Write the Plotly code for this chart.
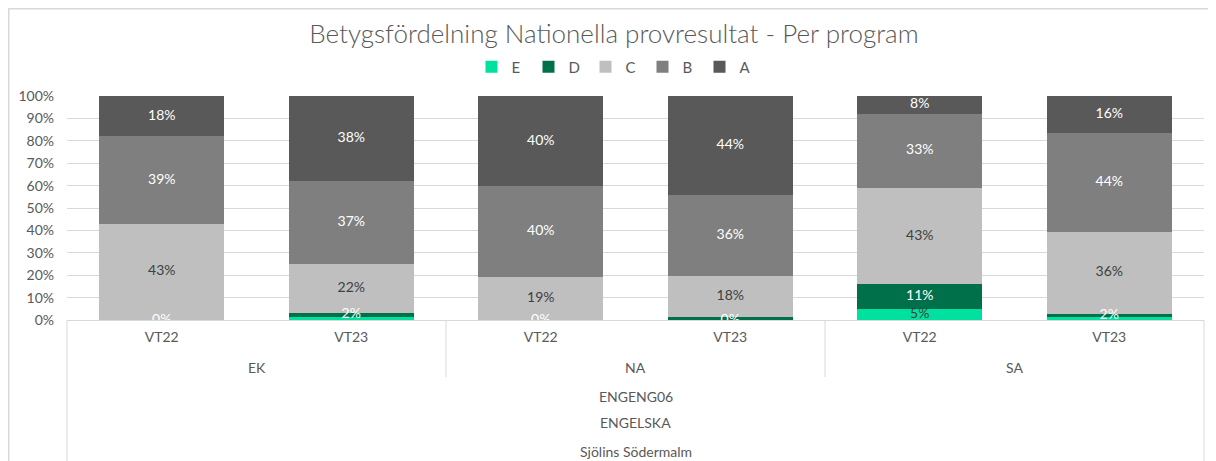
import plotly.graph_objects as go

programs = ["EK", "EK", "NA", "NA", "SA", "SA"]
terms = ["VT22", "VT23", "VT22", "VT23", "VT22", "VT23"]
course = "ENGENG06"
subject = "ENGELSKA"
school = "Sjölins Södermalm"

E = [0, 1.5, 0, 0, 5, 1.4]
D = [0, 1.5, 0, 1.3, 11, 1.4]
C = [43, 22, 19.4, 18.5, 43, 36.4]
B = [39, 37, 40.4, 36, 33, 44.4]
A = [18, 38, 40.2, 44.2, 8, 16.4]

E_lbl = ["0%", "", "0%", "0%", "5%", ""]
D_lbl = ["", "2%", "", "", "11%", "2%"]
C_lbl = ["43%", "22%", "19%", "18%", "43%", "36%"]
B_lbl = ["39%", "37%", "40%", "36%", "33%", "44%"]
A_lbl = ["18%", "38%", "40%", "44%", "8%", "16%"]

names = ["E", "D", "C", "B", "A"]
series = [E, D, C, B, A]
labels = [E_lbl, D_lbl, C_lbl, B_lbl, A_lbl]
colors = ["#00E09E", "#00704A", "#BFBFBF", "#7F7F7F", "#595959"]
lbl_colors = [
    ["#FFFFFF", "#404040", "#FFFFFF", "#FFFFFF", "#404040", "#404040"],
    ["#FFFFFF"] * 6,
    ["#404040"] * 6,
    ["#FFFFFF"] * 6,
    ["#FFFFFF"] * 6,
]

keys = [f"{p} {t}" for p, t in zip(programs, terms)]
FONT = "Lato"
GRAY = "#595959"
LINE = "#D9D9D9"
OFF = 8  # page body margin

FIG_W, FIG_H = 1216, 461
# plot area in screen pixels: x 67..1204, y 96..320
L, R, T, Bt = 67 - OFF, 1204 - OFF, 96 - OFF, 320 - OFF
W, H = R - L, Bt - T


def px_x(x):
    return (x - OFF - L) / W


def px_y(y):
    return (Bt - (y - OFF)) / H


fig = go.Figure()
for n, s, c in zip(names, series, colors):
    fig.add_trace(go.Bar(x=keys, y=s, name=n, marker=dict(color=c, line=dict(width=0)),
                         width=0.66, hoverinfo="skip"))

base = [0] * len(keys)
for s, lb, lc in zip(series, labels, lbl_colors):
    mids = [b + v / 2 for b, v in zip(base, s)]
    fig.add_trace(go.Scatter(x=keys, y=mids, mode="text", text=lb,
                             textfont=dict(family=FONT, size=14, color=lc),
                             showlegend=False, cliponaxis=False, hoverinfo="skip"))
    base = [b + v for b, v in zip(base, s)]

annotations = []
groups = []
for p in programs:
    if p not in groups:
        groups.append(p)
for g in groups:
    idx = [i for i, p in enumerate(programs) if p == g]
    annotations.append(dict(x=sum(idx) / len(idx), y=px_y(367), xref="x", yref="paper",
                            text=g, showarrow=False, yanchor="middle",
                            font=dict(family=FONT, size=14, color=GRAY)))
for txt, yy in [(course, 396), (subject, 422), (school, 451)]:
    annotations.append(dict(x=0.5, y=px_y(yy), xref="paper", yref="paper", text=txt,
                            showarrow=False, yanchor="middle",
                            font=dict(family=FONT, size=14, color=GRAY)))

shapes = []
# chart outer border
shapes.append(dict(type="rect", xref="paper", yref="paper", x0=px_x(8.75), x1=px_x(1240),
                   y0=px_y(480), y1=px_y(8.75), line=dict(color=LINE, width=1.5)))
# table verticals
for xp in [67, 1204]:
    shapes.append(dict(type="line", xref="paper", yref="paper", x0=px_x(xp), x1=px_x(xp),
                       y0=0, y1=px_y(480), line=dict(color=LINE, width=1)))
for gi in range(1, len(groups)):
    first = [i for i, p in enumerate(programs) if p == groups[gi]][0]
    shapes.append(dict(type="line", xref="x", yref="paper", x0=first - 0.5, x1=first - 0.5,
                       y0=0, y1=px_y(377), line=dict(color=LINE, width=1)))

fig.update_layout(
    width=FIG_W, height=FIG_H,
    margin=dict(l=L, r=FIG_W - R, t=T, b=FIG_H - Bt, autoexpand=False),
    barmode="stack",
    paper_bgcolor="white", plot_bgcolor="white",
    title=dict(text="Betygsfördelning Nationella provresultat - Per program",
               x=px_x(614), xanchor="center", xref="paper",
               y=1 - (34 - OFF) / FIG_H, yanchor="middle",
               font=dict(family=FONT, size=26, color=GRAY, weight=300)),
    legend=dict(orientation="h", x=px_x(614), xanchor="center", y=px_y(67), yanchor="middle",
                traceorder="normal", font=dict(family=FONT, size=15, color=GRAY),
                itemwidth=30, entrywidth=12, entrywidthmode="pixels",
                bgcolor="rgba(0,0,0,0)"),
    annotations=annotations,
    shapes=shapes,
    showlegend=True,
)
fig.update_xaxes(type="category", range=[-0.5, len(keys) - 0.5],
                 tickvals=keys, ticktext=terms, showgrid=False,
                 showline=True, linecolor=LINE, linewidth=1, ticks="",
                 ticklabelstandoff=4,
                 tickfont=dict(family=FONT, size=14, color=GRAY))
fig.update_yaxes(range=[0, 100], dtick=10, ticksuffix="%", showgrid=True, gridcolor=LINE,
                 gridwidth=1, zeroline=False, showline=False, ticks="",
                 ticklabelstandoff=12,
                 tickfont=dict(family=FONT, size=14, color=GRAY))

fig.write_html("out.html")
